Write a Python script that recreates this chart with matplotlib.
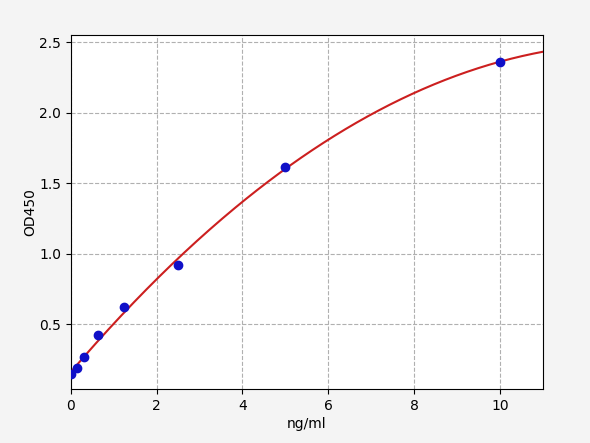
import numpy as np
import matplotlib
matplotlib.use("Agg")
import matplotlib.pyplot as plt

conc = [0, 0.156, 0.312, 0.625, 1.25, 2.5, 5, 10]
od = [0.145, 0.19, 0.268, 0.422, 0.618, 0.918, 1.613, 2.36]

fig = plt.figure(figsize=(5.9, 4.43), dpi=100, facecolor="#f4f4f4")
ax = fig.add_axes([0.120, 0.122, 0.800, 0.799])
ax.set_facecolor("white")

coef = np.polyfit(conc, od, 2)
xs = np.linspace(0, 11, 300)
ax.plot(xs, np.polyval(coef, xs), color="#cc1f1f", lw=1.5, zorder=2)
ax.scatter(conc, od, s=36, color="#1010c8", zorder=3)

ax.set_xlim(0, 11)
ax.set_ylim(0.04, 2.55)
ax.set_xticks([0, 2, 4, 6, 8, 10])
ax.set_yticks([0.5, 1.0, 1.5, 2.0, 2.5])
ax.grid(True, linestyle="--", color="#b0b0b0", lw=0.8)
ax.set_axisbelow(True)
ax.set_xlabel("ng/ml", labelpad=3)
ax.set_ylabel("OD450", labelpad=1)

fig.savefig("out.png", dpi=100, facecolor=fig.get_facecolor())
